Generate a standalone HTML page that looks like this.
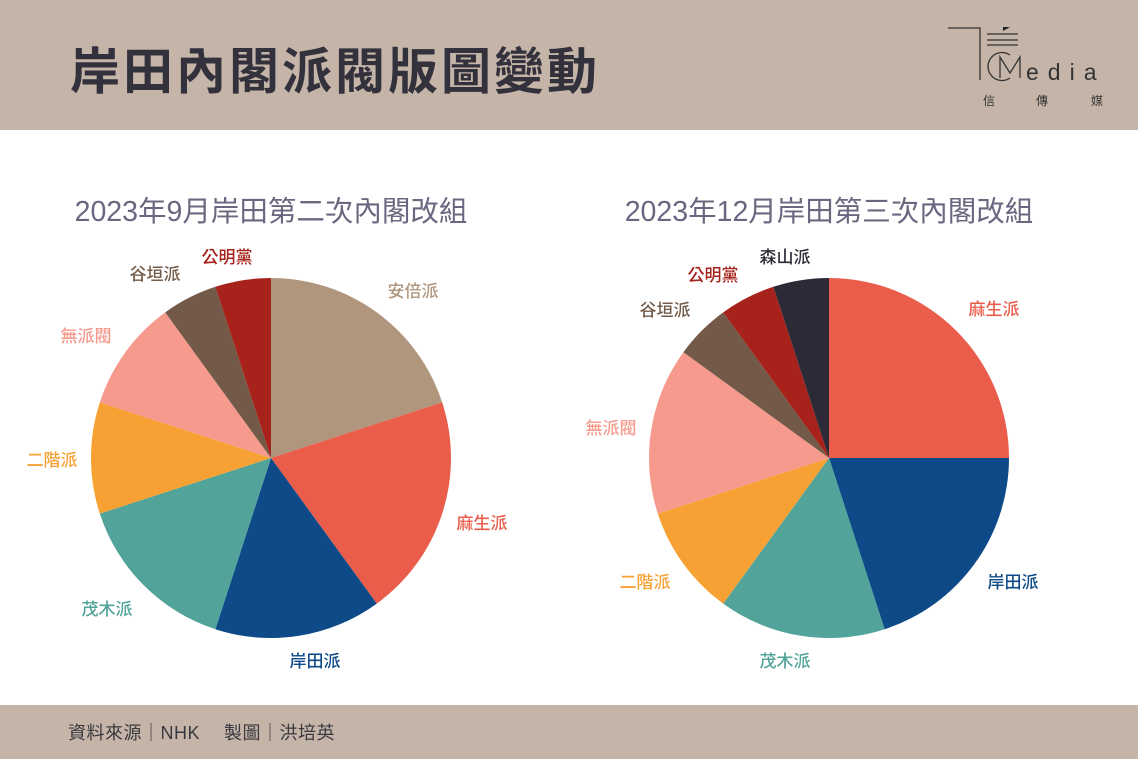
<!DOCTYPE html>
<html><head><meta charset="utf-8"><style>
body{margin:0;width:1138px;height:759px;background:#fff;font-family:"Liberation Sans","Noto Sans CJK TC",sans-serif;overflow:hidden;position:relative}
.hd{position:absolute;left:0;top:0;width:1138px;height:130px;background:#c5b5a8}
.ft{position:absolute;left:0;top:705px;width:1138px;height:54px;background:#c5b5a8}
</style></head><body>
<div class="hd"></div><div class="ft"></div>
<svg id="s" width="1138" height="759" style="position:absolute;left:0;top:0" font-family="Liberation Sans, Noto Sans CJK TC, sans-serif">
<text x="70" y="89" font-size="50" font-weight="bold" fill="#33313c" letter-spacing="3">岸田內閣派閥版圖變動</text>
<g stroke="#333" fill="none" stroke-width="1.3">
<polyline points="948,28 980,28 980,80"/>
<line x1="987" y1="34" x2="1018" y2="34"/><line x1="987" y1="40" x2="1018" y2="40"/><line x1="987" y1="45" x2="1018" y2="45"/>
<path d="M1010,55 A14,14 0 1 0 1010,78"/>
<polyline points="1000,78 1000,57 1010,73 1020,57 1020,78"/>
</g>
<polygon points="1003,27 1010,27 1003,31" fill="#222"/>
<text x="1026" y="80" font-size="23" fill="#333" letter-spacing="9">edia</text>
<text x="983" y="105" font-size="12" fill="#333">信</text>
<text x="1036" y="105" font-size="12" fill="#333">傳</text>
<text x="1091" y="105" font-size="12" fill="#333">媒</text>
<text x="271" y="221" font-size="28.5" fill="#6a6880" text-anchor="middle">2023年9月岸田第二次內閣改組</text>
<text x="829" y="221" font-size="28.5" fill="#6a6880" text-anchor="middle">2023年12月岸田第三次內閣改組</text>
<g id="p1"></g><g id="p2"></g>
<g font-size="17" text-anchor="middle" font-weight="500">
<text x="413" y="297" fill="#b0967c">安倍派</text>
<text x="482" y="529" fill="#ea5d4b">麻生派</text>
<text x="315" y="667" fill="#0e4a87">岸田派</text>
<text x="107" y="615" fill="#52a39a">茂木派</text>
<text x="52" y="466" fill="#f7a135">二階派</text>
<text x="86" y="342" fill="#f79a8e">無派閥</text>
<text x="155" y="280" fill="#735a48">谷垣派</text>
<text x="227" y="263" fill="#a6221a">公明黨</text>
<text x="994" y="315" fill="#ea5d4b">麻生派</text>
<text x="1013" y="588" fill="#0e4a87">岸田派</text>
<text x="785" y="667" fill="#52a39a">茂木派</text>
<text x="645" y="588" fill="#f7a135">二階派</text>
<text x="611" y="434" fill="#f79a8e">無派閥</text>
<text x="665" y="316" fill="#735a48">谷垣派</text>
<text x="713" y="281" fill="#a6221a">公明黨</text>
<text x="785" y="263" fill="#2d2a37">森山派</text>
</g>
<text x="68" y="739" font-size="18" fill="#3a3840" letter-spacing="0.5">資料來源｜NHK　 製圖｜洪培英</text>
</svg>
<script>
function pie(id,cx,cy,r,d){var g=document.getElementById(id),a=0,h='';d.forEach(function(s){var b=a+s[0]*3.6;var f=function(t){t=t*Math.PI/180;return (cx+r*Math.sin(t)).toFixed(2)+','+(cy-r*Math.cos(t)).toFixed(2)};h+='<path d="M'+cx+','+cy+' L'+f(a)+' A'+r+','+r+' 0 '+(b-a>180?1:0)+' 1 '+f(b)+' Z" fill="'+s[1]+'"/>';a=b});g.innerHTML=h;}
pie('p1',271,458,180,[[20,'#b0967c'],[20,'#ea5d4b'],[15,'#0e4a87'],[15,'#52a39a'],[10,'#f7a135'],[10,'#f79a8e'],[5,'#735a48'],[5,'#a6221a']]);
pie('p2',829,458,180,[[25,'#ea5d4b'],[20,'#0e4a87'],[15,'#52a39a'],[10,'#f7a135'],[15,'#f79a8e'],[5,'#735a48'],[5,'#a6221a'],[5,'#2d2a37']]);
</script>
</body></html>
